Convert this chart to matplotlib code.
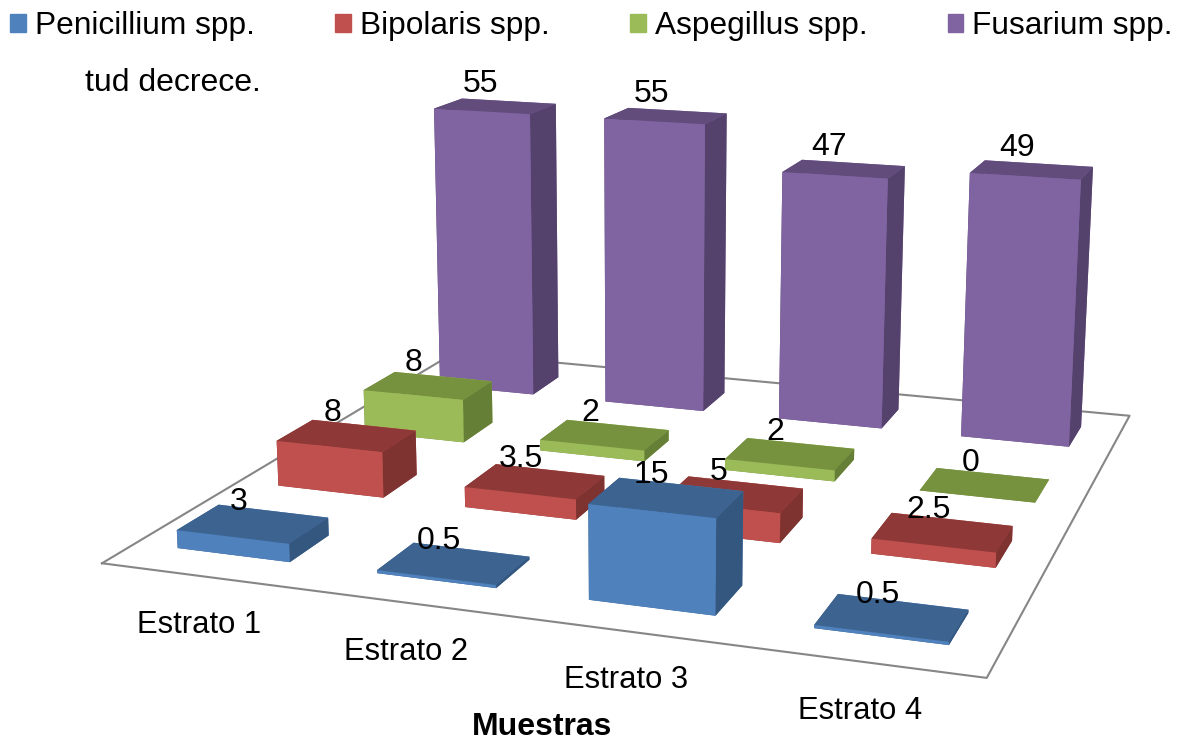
import matplotlib
matplotlib.use('Agg')
import matplotlib.pyplot as plt
from matplotlib.patches import Patch
from mpl_toolkits.mplot3d import proj3d

# Data
strata = ['Estrato 1', 'Estrato 2', 'Estrato 3', 'Estrato 4']
species = ['Penicillium spp.', 'Bipolaris spp.', 'Aspegillus spp.', 'Fusarium spp.']
penicillium = [3, 0.5, 15, 0.5]
bipolaris = [8, 3.5, 5, 2.5]
aspergillus = [8, 2, 2, 0]
fusarium = [55, 55, 47, 49]
series = [penicillium, bipolaris, aspergillus, fusarium]

# front, top and side colours of each series
front_colors = ['#4F81BD', '#C0504D', '#9BBB59', '#8064A2']
top_colors = ['#3D6390', '#8E3937', '#76923F', '#614C7B']
side_colors = ['#345780', '#7F3331', '#667F36', '#54426C']

plt.rcParams['font.family'] = ['Liberation Sans', 'DejaVu Sans']
plt.rcParams['font.size'] = 23

W, H = 1182, 740
fig = plt.figure(figsize=(W / 100, H / 100), dpi=100)

# square axes centred where the camera fit put the scene
side = 1000
cx, cy = 652.66, 326.55
ax = fig.add_axes([(cx - side / 2) / W, (H - cy - side / 2) / H, side / W, side / H],
                  projection='3d', computed_zorder=False)
ax.set_xlim(0, 4)
ax.set_ylim(0, 4)
ax.set_zlim(0, 60)
ax.set_box_aspect((1, 0.9674, 0.4318), zoom=1.1632)
ax.view_init(elev=13.94, azim=-71.11, roll=-0.116)
ax.set_proj_type('persp', focal_length=0.4404)
ax.set_axis_off()

# floor outline
floor, = ax.plot([0, 4, 4, 0, 0], [0, 0, 4, 4, 0], [0, 0, 0, 0, 0], color='#868686', lw=1.5, zorder=1)
floor.set_clip_on(False)

bar_x = 0.2158
bar_y = 0.2986
bar_w = 0.5695
bar_d = 0.3961

# back row first so nearer bars cover it
z = 2
for j in range(len(series) - 1, -1, -1):
    for i, v in enumerate(series[j]):
        # order of faces in bar3d: bottom, top, -y, +y, -x, +x
        faces = [top_colors[j], top_colors[j], front_colors[j], front_colors[j], side_colors[j], side_colors[j]]
        ax.bar3d(i + bar_x, j + bar_y, 0, bar_w, bar_d, v, color=faces, shade=False, zorder=z)
        z += 1

# value labels, a fixed offset away from the middle of each bar top
M = ax.get_proj()
for j, vals in enumerate(series):
    for i, v in enumerate(vals):
        x2, y2, _ = proj3d.proj_transform(i + bar_x + bar_w / 2, j + bar_y + bar_d / 2, v, M)
        ax.annotate(str(v), (x2, y2), xytext=(-10.5, 16), textcoords='offset points',
                    ha='center', va='center', zorder=100)

# category labels sit in front of the floor, placed in figure pixels
label_xy = [(199, 625), (406, 652), (626, 680), (860, 711)]
for name, (px, py) in zip(strata, label_xy):
    fig.text(px / W, 1 - py / H, name, ha='center', va='center', fontsize=22.3)
fig.text(542 / W, 1 - 727 / H, 'Muestras', ha='center', va='center', fontweight='bold')
fig.text(85 / W, 1 - 83 / H, 'tud decrece.', ha='left', va='center')

handles = [Patch(color=c, label=s) for c, s in zip(front_colors, species)]
fig.legend(handles=handles, loc='upper left', bbox_to_anchor=(10 / W, 1 - 11 / H), ncol=4, frameon=False,
           fontsize=22.8, handlelength=0.5, handleheight=0.5, handletextpad=0.28, columnspacing=2.54,
           borderpad=0, borderaxespad=0)

fig.savefig('out.png', dpi=100)
